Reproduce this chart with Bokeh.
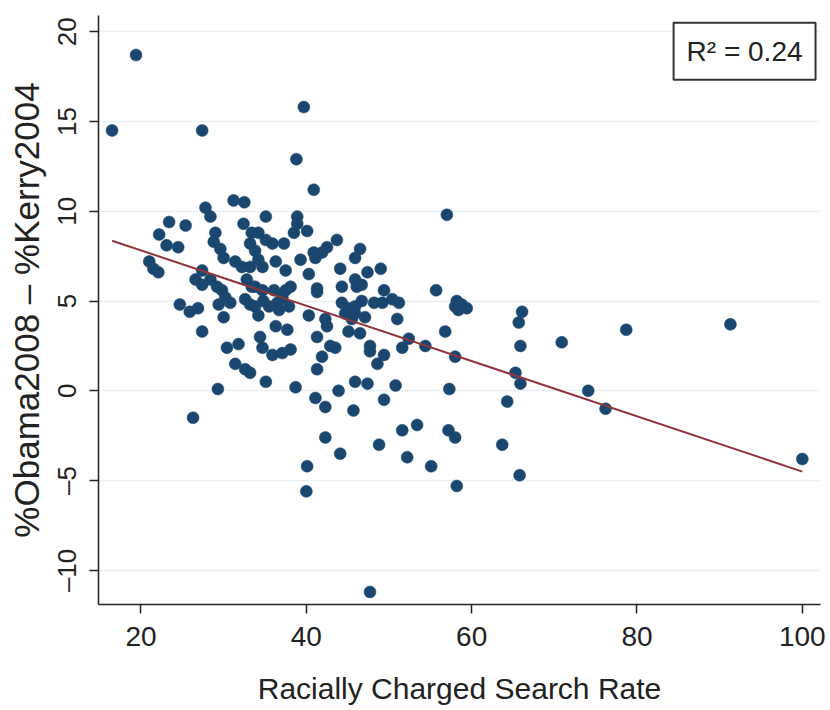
import numpy as np
from bokeh.plotting import figure
from bokeh.models import Range1d, FixedTicker, Label, ColumnDataSource, LinearAxis
from bokeh.embed import file_html
from bokeh.resources import INLINE

# Racially charged search rate (x) and %Obama2008 - %Kerry2004 (y)
search_rate = [
    19.4, 16.5, 27.4, 39.7, 38.8, 40.9, 31.2, 32.5,
    27.8, 28.4, 23.4, 25.4, 22.2, 23.1, 24.5, 29.0, 28.8, 29.6, 30.0, 32.4,
    33.4, 33.2, 33.8, 21.0, 21.5, 22.1, 31.4, 32.2, 33.2, 27.4, 26.6, 27.4,
    28.4, 29.2, 29.8, 30.2, 30.8, 32.8, 33.4, 32.6, 33.2, 24.7, 25.9, 26.9,
    29.4, 30.0, 27.4, 30.4, 31.8,
    31.4, 32.6, 33.2, 29.3, 26.3,
    35.1, 38.9, 38.9, 38.5, 40.1, 34.2, 35.1, 35.9, 37.3, 43.7, 42.5, 41.9,
    40.9, 41.1, 46.5, 45.9, 39.3, 34.2, 34.7, 36.3, 37.5, 40.3, 44.1, 47.4,
    49.0, 45.9, 46.7, 46.1, 44.3, 41.3, 41.3, 33.8, 34.7, 36.1, 37.5, 38.1,
    37.1, 49.4, 50.4, 51.2, 48.2, 49.2, 44.3, 45.1, 45.9, 46.7, 47.1, 45.9,
    45.5, 44.7, 34.8, 35.5, 36.5, 36.7, 37.9, 33.8, 34.2, 40.3, 42.3, 42.5,
    51.0, 36.3, 37.7, 41.3, 45.1, 46.5, 34.4, 42.9, 43.5, 52.4, 51.6,
    34.7, 35.9, 37.1, 38.1, 35.1, 38.7, 41.9, 41.3, 41.1, 42.3, 43.9, 45.9,
    47.4, 47.7, 47.7, 49.4, 48.6, 50.8, 49.4, 45.7, 42.3, 44.1, 40.1, 40.0,
    48.8, 51.6, 53.4, 52.2,
    54.4, 58.0, 65.9, 70.9, 65.3, 65.9, 57.3, 64.3, 57.2, 58.0, 55.1, 63.7,
    58.2, 65.8,
    57.0, 55.7, 58.2, 58.0, 58.8, 59.4, 58.4, 56.8, 66.1, 65.7,
    78.7, 74.1, 76.2, 91.3, 100.0, 47.7,
]
vote_shift = [
    18.7, 14.5, 14.5, 15.8, 12.9, 11.2, 10.6, 10.5,
    10.2, 9.7, 9.4, 9.2, 8.7, 8.1, 8.0, 8.8, 8.3, 7.9, 7.4, 9.3,
    8.8, 8.2, 7.8, 7.2, 6.8, 6.6, 7.2, 6.9, 6.9, 6.7, 6.2, 5.9,
    6.2, 5.8, 5.6, 5.2, 4.9, 6.2, 5.8, 5.1, 4.8, 4.8, 4.4, 4.6,
    4.8, 4.1, 3.3, 2.4, 2.6,
    1.5, 1.2, 1.0, 0.1, -1.5,
    9.7, 9.7, 9.3, 8.8, 8.9, 8.8, 8.4, 8.2, 8.2, 8.4, 8.0, 7.7,
    7.7, 7.4, 7.9, 7.4, 7.3, 7.3, 6.9, 7.2, 6.7, 6.5, 6.8, 6.6,
    6.8, 6.2, 5.9, 5.8, 5.8, 5.7, 5.5, 5.8, 5.6, 5.6, 5.6, 5.8,
    5.2, 5.6, 5.1, 4.9, 4.9, 4.9, 4.9, 4.6, 4.7, 5.0, 4.1, 4.3,
    4.0, 4.3, 5.0, 4.7, 4.9, 4.5, 4.7, 4.7, 4.2, 4.2, 4.0, 3.6,
    4.0, 3.6, 3.4, 3.0, 3.3, 3.2, 3.0, 2.5, 2.4, 2.9, 2.4,
    2.4, 2.0, 2.1, 2.3, 0.5, 0.2, 1.9, 1.2, -0.4, -0.9, 0.0, 0.5,
    0.4, 2.5, 2.2, 2.0, 1.5, 0.3, -0.5, -1.1, -2.6, -3.5, -4.2, -5.6,
    -3.0, -2.2, -1.9, -3.7,
    2.5, 1.9, 2.5, 2.7, 1.0, 0.4, 0.1, -0.6, -2.2, -2.6, -4.2, -3.0,
    -5.3, -4.7,
    9.8, 5.6, 5.0, 4.7, 4.8, 4.6, 4.5, 3.3, 4.4, 3.8,
    3.4, 0.0, -1.0, 3.7, -3.8, -11.2,
]

x_ticks = [20, 40, 60, 80, 100]
y_ticks = [-10, -5, 0, 5, 10, 15, 20]
y_tick_labels = ["\u201310", "\u20135", "0", "5", "10", "15", "20"]

# fitted line
fit_intercept = 10.9
fit_slope = -0.154
r_squared = 0.24

FONT = "Liberation Sans"
NAVY = "#1a476f"
MAROON = "#90353b"
INK = "#222222"

W, H = 828, 708
B_LEFT, B_RIGHT, B_TOP, B_BOTTOM = 98, 8, 15, 104
Y0, Y1 = -11.9, 20.9

p = figure(width=W, height=H, output_backend="svg", toolbar_location=None,
           x_range=Range1d(14.86, 102.2), y_range=Range1d(Y0, Y1),
           min_border_left=B_LEFT, min_border_right=B_RIGHT, min_border_top=B_TOP,
           min_border_bottom=B_BOTTOM)
p.outline_line_color = None
p.background_fill_color = "white"
p.border_fill_color = "white"

p.xgrid.grid_line_color = None
p.ygrid.ticker = FixedTicker(ticks=y_ticks)
p.ygrid.grid_line_color = "#e9f0f2"
p.ygrid.grid_line_width = 1.5

src = ColumnDataSource(dict(x=search_rate, y=vote_shift))
p.scatter("x", "y", source=src, size=12, fill_color=NAVY, line_color=NAVY,
          line_width=0.5)

fx = np.array([min(search_rate), max(search_rate)])
fy = fit_intercept + fit_slope * fx
p.line(fx, fy, line_color=MAROON, line_width=2)

xa = p.xaxis[0]
xa.ticker = FixedTicker(ticks=x_ticks)
xa.axis_label = "Racially Charged Search Rate"
xa.axis_label_text_font = FONT
xa.axis_label_text_font_style = "normal"
xa.axis_label_text_font_size = "30px"
xa.axis_label_text_color = INK
xa.major_label_text_font = FONT
xa.major_label_text_font_size = "28px"
xa.major_label_text_color = INK
xa.major_label_standoff = 13
xa.axis_label_standoff = 23
xa.minor_tick_line_color = None
xa.major_tick_out = 9
xa.major_tick_in = 0
xa.axis_line_color = INK
xa.axis_line_width = 1.5
xa.major_tick_line_color = INK
xa.major_tick_line_width = 1.5

# main y axis: line and tick marks only
ya = p.yaxis[0]
ya.ticker = FixedTicker(ticks=y_ticks)
ya.major_label_overrides = {t: "" for t in y_ticks}
ya.major_label_standoff = 0
ya.minor_tick_line_color = None
ya.major_tick_out = 9
ya.major_tick_in = 0
ya.axis_line_color = INK
ya.axis_line_width = 1.5
ya.major_tick_line_color = INK
ya.major_tick_line_width = 1.5

# second left axis carrying the rotated tick labels, centred on the ticks
# (rotated labels are end-anchored, so each anchor is moved by half the label length)
LABEL_PX = 26
px_per_unit = (H - B_TOP - B_BOTTOM) / (Y1 - Y0)
half_len = [len(s) * 0.556 * LABEL_PX / 2 / px_per_unit for s in y_tick_labels]
label_pos = [round(t + h, 4) for t, h in zip(y_ticks, half_len)]

ya2 = LinearAxis(ticker=FixedTicker(ticks=label_pos))
ya2.major_label_overrides = dict(zip(label_pos, y_tick_labels))
ya2.major_label_orientation = np.pi / 2
ya2.major_label_text_font = FONT
ya2.major_label_text_font_size = f"{LABEL_PX}px"
ya2.major_label_text_color = INK
ya2.major_label_standoff = 22
ya2.axis_line_color = None
ya2.major_tick_line_color = None
ya2.major_tick_out = 0
ya2.major_tick_in = 0
ya2.minor_tick_line_color = None
ya2.axis_label = "%Obama2008 \u2013 %Kerry2004"
ya2.axis_label_text_font = FONT
ya2.axis_label_text_font_style = "normal"
ya2.axis_label_text_font_size = "35px"
ya2.axis_label_text_color = INK
ya2.axis_label_standoff = -11
p.add_layout(ya2, "left")

lab = Label(x=101.6, y=20.5, anchor="top_right", text=f"R\u00b2 = {r_squared:.2f}",
            text_font=FONT, text_font_size="28px", text_color=INK,
            padding=13, border_line_color="#333333", border_line_width=2,
            background_fill_color="white")
p.add_layout(lab)

open("out.html", "w").write(file_html(p, INLINE))
